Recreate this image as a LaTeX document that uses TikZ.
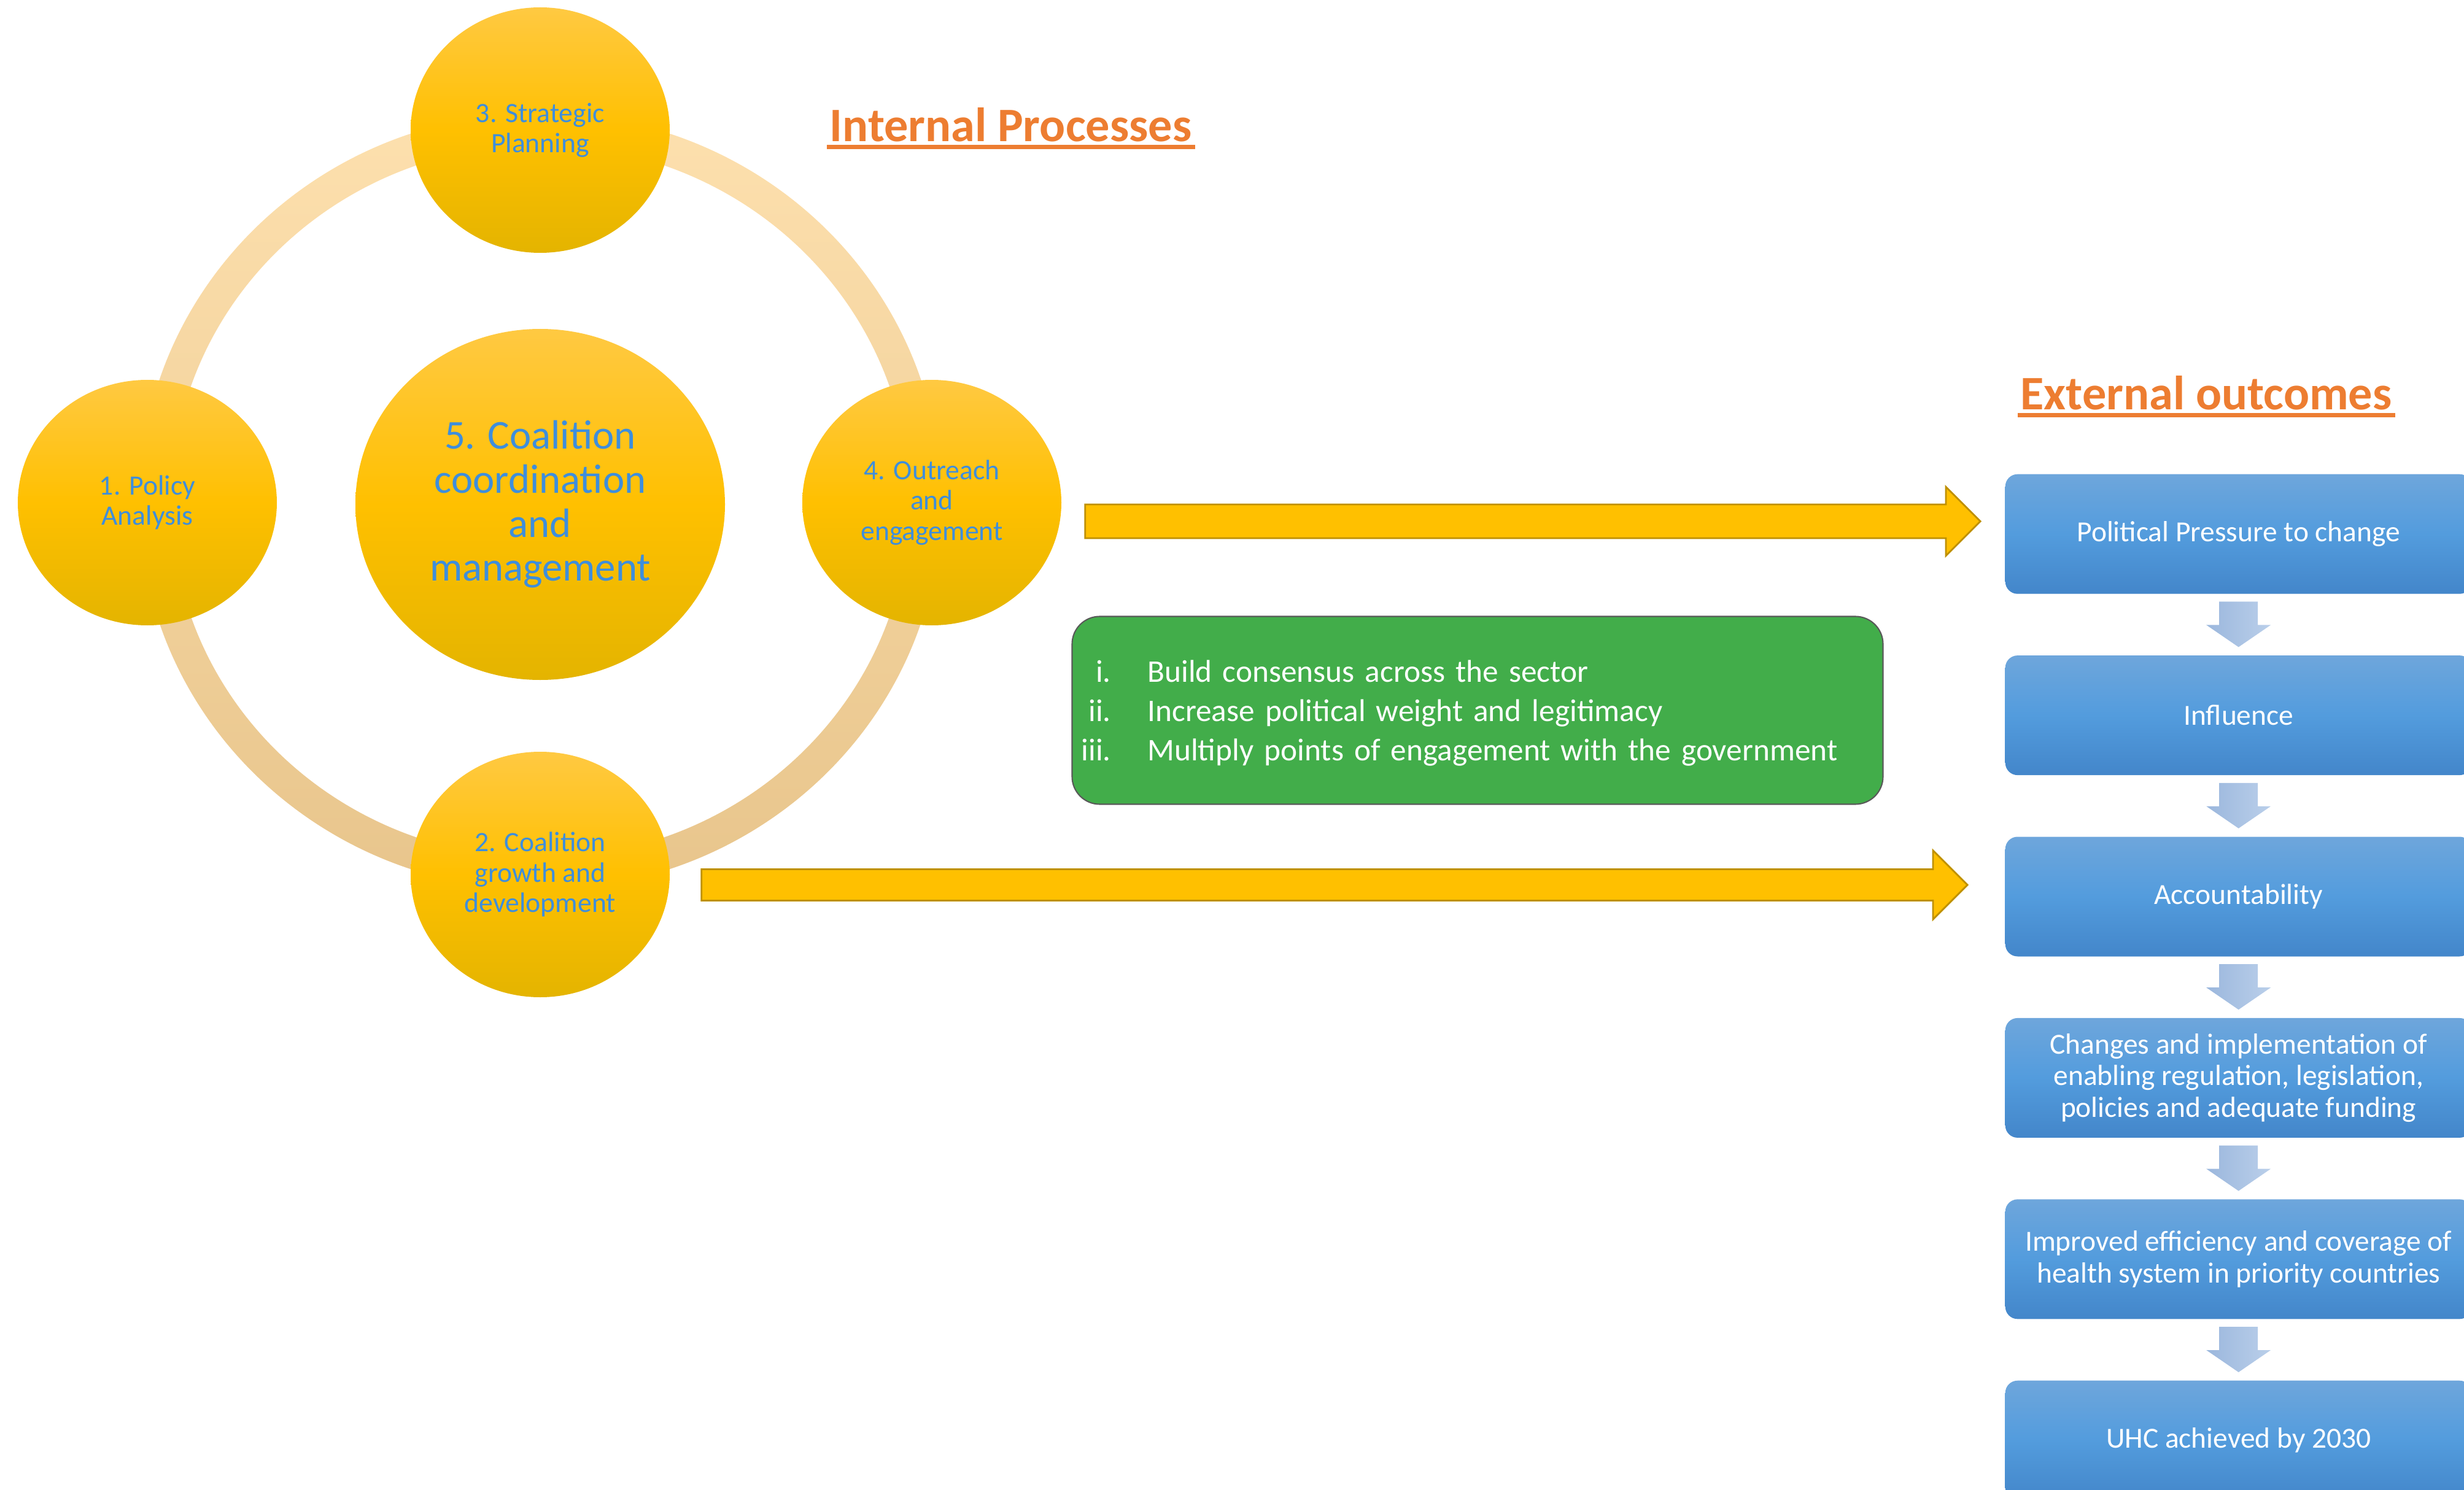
\documentclass[tikz,border=0pt]{standalone}
\usepackage{fontspec}
\setmainfont{Carlito}
\usetikzlibrary{positioning,shapes.geometric,calc}

\definecolor{gold}{RGB}{255,192,0}
\definecolor{goldtop}{RGB}{255,201,66}
\definecolor{goldbot}{RGB}{228,180,0}
\definecolor{goldline}{RGB}{191,144,0}
\definecolor{ringtop}{RGB}{253,224,174}
\definecolor{ringbot}{RGB}{232,197,140}
\definecolor{txtblue}{RGB}{62,142,220}
\definecolor{titleorange}{RGB}{237,125,49}
\definecolor{leafgreen}{RGB}{66,173,74}
\definecolor{boxtop}{RGB}{110,166,220}
\definecolor{boxmid}{RGB}{83,156,221}
\definecolor{boxbot}{RGB}{67,134,202}
\definecolor{downl}{RGB}{155,183,221}
\definecolor{downr}{RGB}{186,207,234}

\tikzset{
  stage/.style={ellipse, inner sep=0pt, minimum width=4.22cm, minimum height=4.00cm,
    top color=goldtop, bottom color=goldbot, middle color=gold, text=txtblue,
    align=center, font=\fontsize{13}{14}\selectfont},
  hubstage/.style={stage, minimum width=6.02cm, minimum height=5.72cm,
    font=\fontsize{19}{20.4}\selectfont},
  heading/.style={inner sep=0pt, anchor=base west, text=titleorange,
    font=\fontsize{22.3}{26}\selectfont\bfseries},
  outcome/.style={rectangle, rounded corners=0.2cm, minimum width=7.60cm,
    minimum height=1.95cm, inner sep=0pt, top color=boxtop, bottom color=boxbot,
    middle color=boxmid, text=white, align=center,
    font=\fontsize{13.5}{14.6}\selectfont},
}

% yellow block arrow: start, tip, shaft half height, head half height
\newcommand{\goldarrow}[4]{%
  \filldraw[fill=gold, draw=goldline, line width=0.8pt]
    ($(#1)+(0,#3)$) -- ($(#2)+(-0.56,#3)$) -- ($(#2)+(-0.56,#4)$) -- (#2)
    -- ($(#2)+(-0.56,-#4)$) -- ($(#2)+(-0.56,-#3)$) -- ($(#1)+(0,-#3)$) -- cycle;}

\begin{document}
\begin{tikzpicture}
  \useasboundingbox (0,0) rectangle (40.14,-24.28);

  % ring behind the five stages
  \coordinate (hub) at (8.80,-8.17);
  \shade[top color=ringtop, bottom color=ringbot, even odd rule]
    (hub) ellipse [x radius=6.53cm, y radius=6.33cm]
    (hub) ellipse [x radius=6.01cm, y radius=5.81cm];

  \node[hubstage] (coord) at (8.80,-8.22) {5. Coalition\\coordination\\and\\management};
  \node[stage] (policy) at (2.40,-8.19) {1. Policy\\Analysis};
  \node[stage] (plan) at (8.80,-2.12) {3. Strategic\\Planning};
  \node[stage] (reach) at (15.18,-8.19) {4. Outreach\\and\\engagement};
  \node[stage] (growth) at (8.80,-14.25) {2. Coalition\\growth and\\development};

  % titles
  \node[heading] (inttitle) at (13.51,-2.31) {Internal Processes};
  \fill[titleorange] ($(inttitle.base west)+(-0.04,-0.05)$) rectangle ($(inttitle.base east)+(0.05,-0.12)$);
  \node[heading] (exttitle) at (32.91,-6.68) {External outcomes};
  \fill[titleorange] ($(exttitle.base west)+(-0.04,-0.05)$) rectangle ($(exttitle.base east)+(0.05,-0.12)$);

  % outcome chain
  \node[outcome, anchor=north west] (press) at (32.66,-7.72) {Political Pressure to change};
  \node[outcome, below=0.99cm of press] (infl) {Influence};
  \node[outcome, below=0.99cm of infl] (acct) {Accountability};
  \node[outcome, below=0.99cm of acct] (reform) {Changes and implementation of\\enabling regulation, legislation,\\policies and adequate funding};
  \node[outcome, below=0.99cm of reform] (health) {Improved efficiency and coverage of\\health system in priority countries};
  \node[outcome, below=0.99cm of health] (uhc) {UHC achieved by 2030};

  \foreach \a/\b in {press/infl, infl/acct, acct/reform, reform/health, health/uhc}
    \shade[left color=downl, right color=downr]
      ($(\a.south)+(-0.315,-0.12)$) -- ($(\a.south)+(0.315,-0.12)$)
      -- ($(\a.south)+(0.315,-0.50)$) -- ($(\a.south)+(0.525,-0.50)$)
      -- ($(\b.north)+(0,0.13)$)
      -- ($(\a.south)+(-0.525,-0.50)$) -- ($(\a.south)+(-0.315,-0.50)$) -- cycle;

  % block arrows towards the outcomes
  \coordinate (pushA) at ($(reach.east)+(0.38,-0.305)$);
  \coordinate (pushB) at ($(press.west |- pushA)+(-0.40,0)$);
  \goldarrow{pushA}{pushB}{0.275}{0.56}
  \coordinate (growA) at ($(growth.east)+(0.51,-0.17)$);
  \coordinate (growB) at ($(acct.west |- growA)+(-0.61,0)$);
  \goldarrow{growA}{growB}{0.255}{0.56}

  \node[draw=black!65, line width=0.6pt, fill=leafgreen, rounded corners=0.45cm,
    minimum width=13.21cm, minimum height=3.06cm, text width=12.91cm, inner xsep=0.15cm,
    text=white, font=\fontsize{14.6}{18.2}\selectfont] (gains) at (24.07,-11.575)
    {\noindent\raisebox{-1.6pt}[\height][\depth]{\begin{tabular}{@{}r@{\hspace{17pt}}l@{}}
      i. & Build consensus across the sector\\
      ii. & Increase political weight and legitimacy\\
      iii. & Multiply points of engagement with the government
    \end{tabular}}};
\end{tikzpicture}
\end{document}
